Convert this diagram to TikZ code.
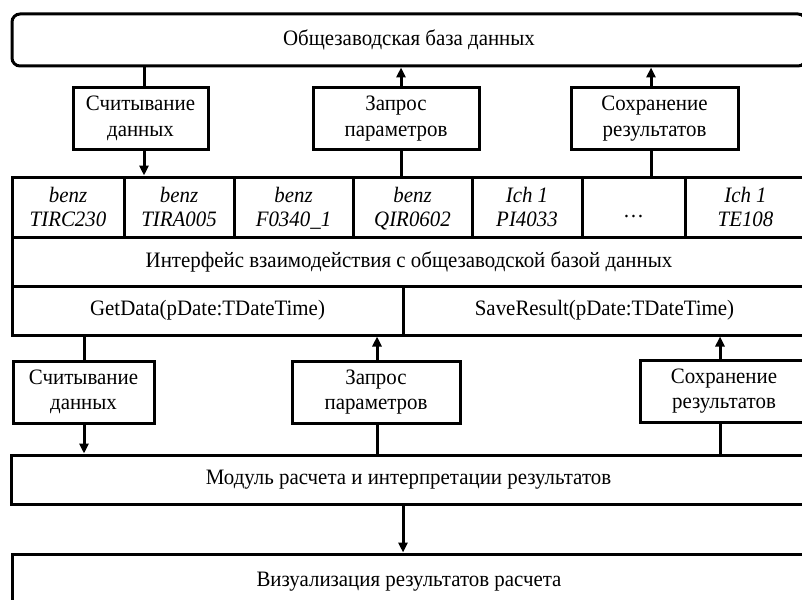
\documentclass[tikz,border=0pt]{standalone}
\usepackage{fontspec}
\setmainfont{Liberation Serif}[FakeStretch=0.95]
\usetikzlibrary{arrows.meta}
\begin{document}
\begin{tikzpicture}[x=1pt,y=-1pt,
  box/.style={draw, line width=3pt, inner sep=0pt, align=center, font=\fontsize{22}{25.5}\selectfont},
  cell/.style={box, font=\itshape\fontsize{22}{24.5}\selectfont, minimum height=60pt},
  conn/.style={line width=3pt},
  arr/.style={conn, -{Triangle[length=10pt,width=9pt]}}]
\useasboundingbox (0,0) rectangle (802,599);
\clip (0,0) rectangle (802,599);
\fill[white] (0,0) rectangle (802,599);
% top database
\node[box, rounded corners=8pt, minimum width=794pt, minimum height=52pt] (db) at (409,40) {Общезаводская база данных};
% upper boxes
\node[box, minimum width=135pt, minimum height=61pt] (us1) at (140.5,118.5) {Считывание\\данных};
\node[box, minimum width=166pt, minimum height=61pt] (us2) at (396,118.5) {Запрос\\параметров};
\node[box, minimum width=167pt, minimum height=61pt] (us3) at (654.5,118.5) {Сохранение\\результатов};
% cells
\node[cell, minimum width=112pt] (c1) at (68,207) {benz\\TIRC230};
\node[cell, minimum width=110pt] (c2) at (179,207) {benz\\TIRA005};
\node[cell, minimum width=119pt] (c3) at (293.5,207) {benz\\\smash{F0340\_1}};
\node[cell, minimum width=119pt] (c4) at (412.5,207) {benz\\\smash{QIR0602}};
\node[cell, minimum width=110pt] (c5) at (527,207) {Ich 1\\PI4033};
\node[cell, minimum width=103pt] (c6) at (633.5,207) {\smash{\raisebox{-10pt}{\upshape …}}};
\node[cell, minimum width=121pt] (c7) at (745.5,207) {Ich 1\\TE108};
% interface
\node[box, minimum width=794pt, minimum height=49pt] (iface) at (409,261.5) {Интерфейс взаимодействия с общезаводской базой данных};
\node[box, minimum width=391pt, minimum height=49pt] (get) at (207.5,310.5) {GetData(pDate:TDateTime)};
\node[box, minimum width=403pt, minimum height=49pt] (save) at (604.5,310.5) {SaveResult(pDate:TDateTime)};
% lower boxes
\node[box, minimum width=141pt, minimum height=62pt] (ls1) at (83.5,392) {Считывание\\данных};
\node[box, minimum width=168pt, minimum height=62pt] (ls2) at (376,392) {Запрос\\параметров};
\node[box, minimum width=168pt, minimum height=62pt] (ls3) at (724,391) {Сохранение\\результатов};
% module and visualisation
\node[box, minimum width=795pt, minimum height=49pt] (mod) at (408.5,479.5) {Модуль расчета и интерпретации результатов};
\node[box, minimum width=794pt, minimum height=56pt] (vis) at (409,582) {Визуализация результатов расчета};
% connector columns
\coordinate (xa) at (144,0);
\coordinate (xb) at (401,0);
\coordinate (xc) at (651,0);
\coordinate (xd) at (84,0);
\coordinate (xe) at (377,0);
\coordinate (xf) at (720,0);
\coordinate (xg) at (403,0);
% connectors
\draw[conn] (db.south -| xa) -- (us1.north -| xa);
\draw[arr] (us1.south -| xa) -- (c2.north -| xa);
\draw[arr] (us2.north -| xb) -- (db.south -| xb);
\draw[conn] (c4.north -| xb) -- (us2.south -| xb);
\draw[arr] (us3.north -| xc) -- (db.south -| xc);
\draw[conn] (c6.north -| xc) -- (us3.south -| xc);
\draw[conn] (get.south -| xd) -- (ls1.north -| xd);
\draw[arr] (ls1.south -| xd) -- (mod.north -| xd);
\draw[arr] (ls2.north -| xe) -- (get.south -| xe);
\draw[conn] (mod.north -| xe) -- (ls2.south -| xe);
\draw[arr] (ls3.north -| xf) -- (save.south -| xf);
\draw[conn] (mod.north -| xf) -- (ls3.south -| xf);
\draw[arr] (mod.south -| xg) -- (vis.north -| xg);
\end{tikzpicture}
\end{document}
